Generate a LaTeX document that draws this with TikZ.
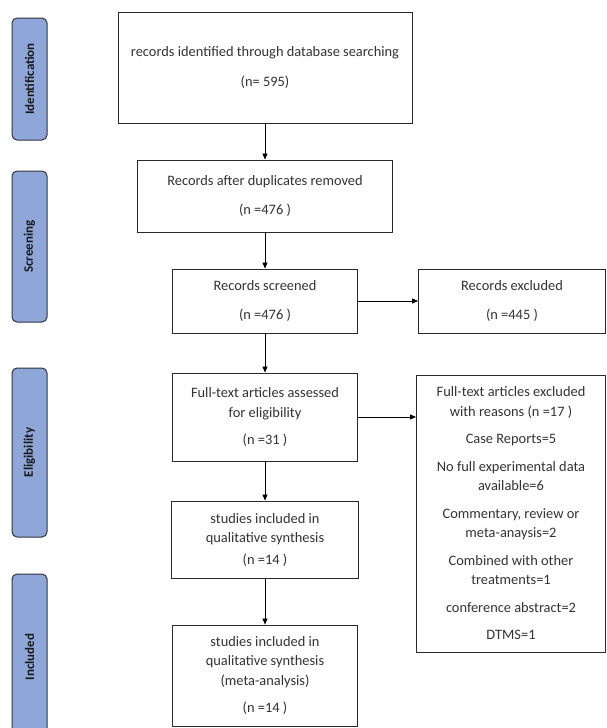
\documentclass[tikz,border=0pt]{standalone}
\usepackage{fontspec}
\setmainfont{Carlito}
\usepackage{tikz}
\usetikzlibrary{calc,arrows.meta,positioning}
\usepackage{xcolor}
\definecolor{stageblue}{HTML}{8FA6D8}
\definecolor{stageline}{HTML}{2E3440}
\definecolor{boxline}{HTML}{2A2A2A}
\definecolor{boxtext}{HTML}{333333}

\begin{document}
\begin{tikzpicture}[x=1pt,y=-1pt,
    flowbox/.style={draw=boxline, line width=0.9pt, fill=white, text=boxtext,
        align=center, inner sep=0pt, font=\fontsize{14.4}{19.5}\selectfont},
    stage/.style={draw=stageline, line width=1pt, fill=stageblue, rounded corners=5pt,
        minimum width=35pt, inner sep=0pt, text=black!90,
        font=\bfseries\fontsize{13}{15}\selectfont},
    arr/.style={-{Triangle[length=6pt,width=5pt]}, line width=0.8pt, draw=black}]
    \clip (0,0) rectangle (606,728);

    % phase labels
    \node[stage, minimum height=122pt] (idlab) at (29.5,79) {\rotatebox{90}{Identification}};
    \node[stage, minimum height=151pt] (scrlab) at (29.5,246.5) {\rotatebox{90}{Screening}};
    \node[stage, minimum height=169pt] (elilab) at (29.5,452.5) {\rotatebox{90}{Eligibility}};
    \node[stage, minimum height=166pt] (inclab) at (29.5,657) {\rotatebox{90}{Included}};

    % main column
    \node[flowbox, minimum width=294pt, minimum height=111pt] (ident) at (265,67.5)
        {records identified through database searching\\[11pt](n= 595)};
    \node[flowbox, minimum width=255pt, minimum height=72pt] (dup) at (265,196)
        {Records after duplicates removed\\[10pt](n =476 )};
    \node[flowbox, minimum width=185pt, minimum height=64pt] (screen) at (265,301)
        {Records screened\\[9pt](n =476 )};
    \node[flowbox, minimum width=185pt, minimum height=88pt] (full) at (265,417)
        {Full-text articles assessed\\for eligibility\\[8pt](n =31 )};
    \node[flowbox, minimum width=187pt, minimum height=77pt] (qual) at (265,539.5)
        {studies included in\\qualitative synthesis\\[2pt](n =14 )};
    \node[flowbox, minimum width=185pt, minimum height=101pt] (meta) at (265,675.5)
        {studies included in\\qualitative synthesis\\(meta-analysis)\\[8pt](n =14 )};

    % exclusions
    \node[flowbox, minimum width=187pt, minimum height=64pt] (excl) at (512,301)
        {Records excluded\\[9pt](n =445 )};
    \node[flowbox, minimum width=189pt, minimum height=277pt] (reasons) at (511,513.5)
        {Full-text articles excluded\\with reasons (n =17 )\\[8pt]
         Case Reports=5\\[8pt]
         No full  experimental data\\available=6\\[8pt]
         Commentary, review or\\meta-anaysis=2\\[8pt]
         Combined with other\\treatments=1\\[8pt]
         conference abstract=2\\[8pt]
         DTMS=1};

    \draw[arr] (ident) -- (dup);
    \draw[arr] (dup) -- (screen);
    \draw[arr] (screen) -- (full);
    \draw[arr] (full) -- (qual);
    \draw[arr] (qual) -- (meta);
    \draw[arr] (screen) -- (excl);
    \draw[arr] (full.east) -- (full.east -| reasons.west);
\end{tikzpicture}
\end{document}
